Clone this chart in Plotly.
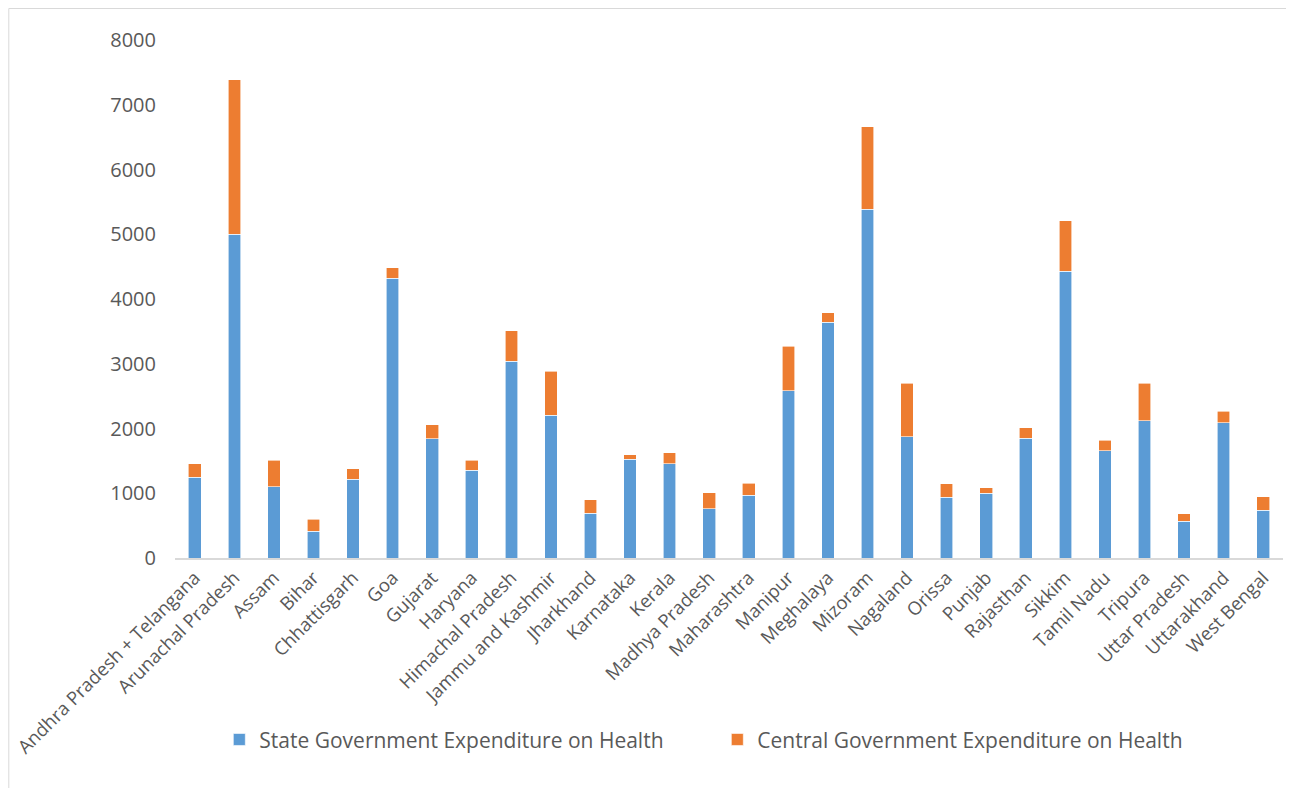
import plotly.graph_objects as go

states = ["Andhra Pradesh + Telangana", "Arunachal Pradesh", "Assam", "Bihar", "Chhattisgarh",
          "Goa", "Gujarat", "Haryana", "Himachal Pradesh", "Jammu and Kashmir", "Jharkhand",
          "Karnataka", "Kerala", "Madhya Pradesh", "Maharashtra", "Manipur", "Meghalaya",
          "Mizoram", "Nagaland", "Orissa", "Punjab", "Rajasthan", "Sikkim", "Tamil Nadu",
          "Tripura", "Uttar Pradesh", "Uttarakhand", "West Bengal"]

state_exp = [1251, 4998, 1101, 417, 1214, 4324, 1842, 1359, 3042, 2208, 689,
             1523, 1452, 757, 967, 2584, 3639, 5384, 1873, 942, 998, 1853,
             4432, 1653, 2116, 571, 2089, 735]

central_exp = [201, 2392, 406, 185, 161, 159, 217, 154, 464, 674, 207,
               68, 174, 247, 185, 684, 149, 1277, 824, 201, 88, 159,
               777, 163, 581, 113, 181, 212]

fig = go.Figure()
fig.add_trace(go.Bar(x=states, y=state_exp, name="State Government Expenditure on Health",
                     marker=dict(color="#5B9BD5", line=dict(color="white", width=0.6))))
fig.add_trace(go.Bar(x=states, y=central_exp, name="Central Government Expenditure on Health",
                     marker=dict(color="#ED7D31", line=dict(color="white", width=0.6))))

fig.update_layout(
    barmode="stack",
    bargap=0.68,
    width=1286, height=780,
    margin=dict(l=167, r=11, t=32, b=230, autoexpand=False),
    paper_bgcolor="white", plot_bgcolor="white",
    font=dict(family="Open Sans", color="#595959"),
    showlegend=True,
    legend=dict(orientation="h", traceorder="normal", x=0.040, xanchor="left",
                y=-0.351, yanchor="middle",
                font=dict(size=21, color="#595959"), entrywidth=453, entrywidthmode="pixels"),
    xaxis=dict(tickangle=-45, tickfont=dict(size=18.5, color="#595959"), showline=True,
               linecolor="#D9D9D9", linewidth=1.5, ticks="", showgrid=False),
    yaxis=dict(range=[0, 8000], dtick=1000, tickfont=dict(size=20, color="#595959"),
               showgrid=False, zeroline=False, showline=False, ticks="", ticklabelstandoff=18),
    shapes=[dict(type="rect", xref="paper", yref="paper", x0=-0.150, x1=1.0093, y0=-0.45, y1=1.0608,
                 line=dict(color="#D9D9D9", width=1), fillcolor="rgba(0,0,0,0)", layer="below")],
)

fig.write_html("out.html")
